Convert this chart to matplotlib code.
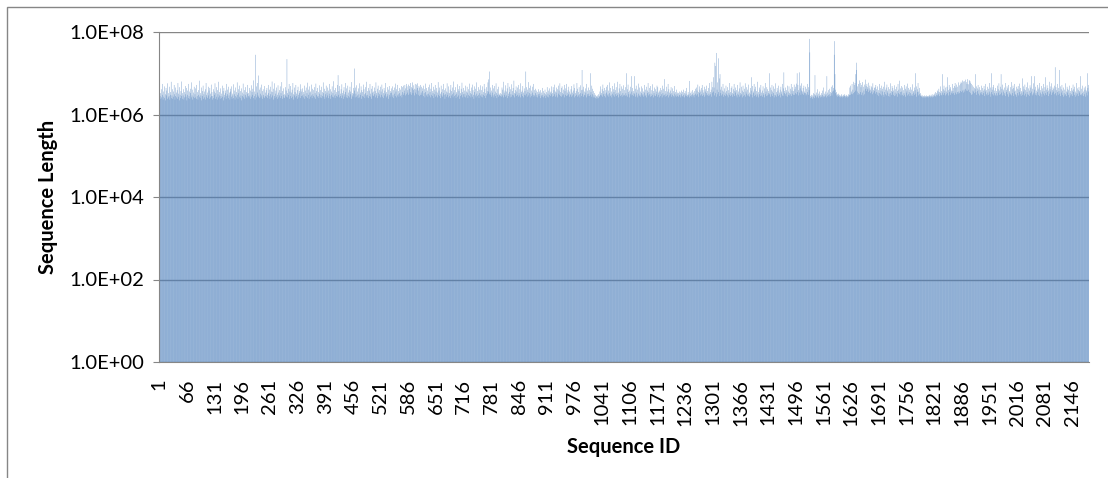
import numpy as np
import matplotlib.pyplot as plt
from matplotlib.patches import Rectangle
from matplotlib.ticker import FixedLocator, FuncFormatter, NullLocator

# sequence lengths in units of 100 kb, one value per sequence ID
lengths_100kb = [
    50, 45, 28, 33, 24, 41, 26, 30, 55, 23, 36, 27, 48, 25, 31, 22, 44, 29, 38, 24, 57, 26, 33, 28, 47, 23, 35, 30, 62, 25, 29, 41, 24, 36, 27, 52, 31, 23, 45, 28, 34, 26,
    39, 24, 58, 27, 32, 22, 46, 30, 25, 37, 28, 63, 24, 33, 29, 41, 23, 35, 26, 49, 31, 27, 44, 22, 38, 30, 55, 25, 28, 36, 24, 42, 33, 26, 60, 29, 23, 40, 27, 34, 47, 25,
    31, 26, 43, 24, 52, 28, 35, 23, 39, 30, 27, 66, 25, 33, 29, 45, 22, 37, 28, 50, 24, 31, 36, 26, 41, 23, 58, 30, 27, 34, 25, 47, 29, 38, 24, 44, 32, 26, 53, 28, 35, 23,
    28, 41, 25, 36, 30, 57, 24, 33, 27, 46, 23, 39, 31, 26, 62, 29, 35, 24, 43, 28, 32, 25, 50, 27, 37, 22, 44, 30, 26, 38, 33, 24, 55, 28, 31, 40, 25, 47, 29, 34, 23, 42,
    36, 27, 48, 24, 32, 29, 54, 25, 38, 31, 23, 45, 28, 35, 26, 60, 30, 24, 41, 33, 27, 50, 25, 37, 29, 43, 22, 34, 28, 56, 26, 31, 39, 24, 46, 30, 27, 35, 25, 52, 32, 28,
    33, 26, 44, 29, 38, 24, 51, 27, 35, 30, 42, 25, 67, 28, 36, 23, 280, 31, 48, 26, 58, 34, 29, 88, 27, 40, 25, 45, 32, 26, 53, 29, 37, 24, 41, 30, 27, 49, 25, 34, 28, 39,
    27, 44, 30, 25, 52, 33, 28, 40, 24, 47, 31, 36, 26, 63, 29, 35, 23, 42, 28, 57, 25, 32, 38, 27, 45, 30, 24, 51, 34, 26, 39, 29, 48, 25, 33, 28, 61, 24, 37, 30, 43, 26,
    31, 25, 46, 29, 38, 27, 220, 33, 26, 42, 30, 55, 24, 36, 28, 49, 25, 34, 40, 27, 58, 31, 23, 45, 29, 35, 26, 52, 32, 28, 39, 24, 47, 30, 26, 37, 33, 54, 25, 41, 28, 36,
    29, 43, 26, 35, 31, 50, 24, 38, 28, 45, 27, 33, 59, 25, 40, 30, 24, 48, 34, 27, 36, 29, 53, 25, 42, 31, 28, 39, 26, 46, 33, 24, 56, 30, 37, 27, 44, 28, 35, 25, 51, 32,
    26, 39, 30, 47, 25, 35, 28, 60, 33, 27, 42, 24, 37, 31, 50, 26, 34, 29, 45, 25, 38, 32, 55, 28, 41, 24, 36, 30, 48, 27, 33, 26, 64, 29, 39, 25, 44, 31, 35, 28, 52, 27,
    90, 30, 37, 26, 49, 32, 28, 41, 25, 54, 33, 29, 38, 24, 46, 31, 27, 58, 35, 26, 43, 30, 25, 50, 34, 28, 39, 26, 47, 31, 36, 24, 61, 29, 33, 27, 44, 32, 130, 38, 26, 45,
    32, 27, 51, 29, 36, 25, 43, 31, 57, 26, 34, 30, 48, 24, 39, 28, 35, 53, 27, 41, 31, 25, 46, 33, 29, 62, 26, 37, 30, 44, 25, 38, 28, 55, 32, 27, 42, 24, 49, 34, 29, 36,
    28, 45, 31, 37, 26, 60, 33, 29, 42, 25, 50, 34, 28, 39, 31, 47, 26, 36, 30, 53, 27, 41, 33, 25, 44, 29, 38, 32, 58, 26, 35, 28, 46, 31, 40, 24, 49, 30, 27, 37, 33, 43,
    34, 27, 48, 30, 39, 25, 45, 32, 28, 56, 36, 26, 41, 29, 52, 31, 37, 27, 44, 33, 28, 40, 30, 49, 26, 35, 46, 30, 50, 33, 38, 52, 29, 43, 55, 31, 48, 34, 39, 53, 30, 42,
    49, 32, 58, 35, 46, 30, 43, 60, 33, 39, 51, 29, 42, 55, 34, 40, 53, 31, 44, 57, 30, 38, 49, 28, 45, 52, 30, 34, 47, 30, 43, 37, 28, 50, 33, 41, 26, 56, 35, 29, 44, 31,
    38, 27, 46, 32, 29, 53, 35, 26, 42, 30, 58, 28, 37, 33, 47, 25, 40, 31, 52, 27, 36, 29, 44, 34, 26, 61, 30, 38, 28, 45, 32, 25, 50, 35, 29, 41, 27, 55, 33, 30, 39, 24,
    43, 31, 36, 27, 57, 30, 34, 26, 48, 33, 28, 40, 25, 52, 37, 29, 45, 31, 26, 63, 34, 28, 39, 30, 46, 25, 35, 32, 54, 27, 41, 29, 37, 24, 49, 33, 28, 42, 30, 59, 26, 35,
    31, 44, 27, 38, 32, 50, 26, 36, 29, 47, 34, 25, 41, 30, 56, 28, 37, 33, 26, 45, 31, 53, 27, 39, 30, 24, 48, 35, 29, 42, 26, 60, 32, 28, 37, 30, 46, 25, 40, 33, 51, 29,
    27, 39, 31, 48, 26, 35, 30, 55, 28, 42, 33, 25, 46, 29, 37, 32, 60, 36, 71, 31, 110, 34, 45, 30, 38, 27, 52, 34, 29, 43, 26, 49, 31, 36, 28, 57, 33, 25, 41, 30, 47, 27,
    32, 29, 30, 28, 33, 27, 31, 45, 29, 40, 26, 62, 34, 30, 38, 27, 51, 36, 29, 43, 25, 58, 32, 28, 47, 35, 26, 41, 31, 54, 27, 37, 30, 44, 29, 66, 33, 26, 39, 32, 48, 28,
    36, 30, 45, 27, 52, 33, 29, 41, 26, 57, 35, 31, 38, 28, 49, 34, 26, 43, 30, 37, 29, 110, 32, 46, 27, 40, 35, 61, 29, 33, 44, 26, 50, 31, 38, 28, 47, 34, 30, 55, 27, 39,
    29, 42, 33, 27, 38, 30, 35, 26, 41, 31, 28, 36, 32, 25, 39, 29, 34, 27, 44, 30, 26, 37, 33, 28, 40, 31, 25, 35, 29, 46, 27, 32, 38, 26, 43, 30, 34, 28, 36, 31, 48, 27,
    33, 46, 28, 39, 31, 53, 27, 36, 34, 45, 29, 41, 26, 50, 32, 38, 30, 57, 28, 35, 44, 27, 48, 33, 29, 40, 31, 52, 26, 37, 30, 43, 28, 55, 34, 29, 39, 31, 47, 27, 36, 32,
    30, 41, 27, 49, 34, 29, 38, 31, 54, 26, 44, 33, 28, 37, 30, 58, 27, 42, 35, 29, 46, 31, 26, 51, 33, 39, 28, 120, 32, 40, 27, 47, 30, 36, 29, 43, 34, 26, 55, 31, 38, 28,
    45, 32, 28, 39, 30, 100, 35, 27, 50, 31, 42, 26, 37, 29, 33, 26, 30, 25, 28, 27, 24, 29, 26, 31, 25, 28, 27, 36, 30, 48, 33, 29, 41, 27, 53, 31, 37, 28, 44, 32, 26, 39,
    34, 47, 29, 52, 31, 38, 27, 60, 33, 28, 44, 30, 36, 26, 49, 32, 29, 41, 35, 57, 27, 39, 31, 46, 28, 33, 30, 62, 34, 26, 43, 31, 55, 28, 37, 30, 48, 27, 42, 33, 29, 51,
    30, 39, 28, 46, 33, 100, 29, 41, 27, 53, 35, 31, 38, 26, 47, 32, 29, 85, 36, 30, 44, 28, 37, 33, 85, 31, 42, 27, 50, 34, 29, 40, 26, 56, 32, 28, 45, 30, 36, 27, 48, 33,
    29, 43, 31, 36, 27, 52, 34, 28, 40, 30, 47, 26, 38, 33, 58, 29, 35, 31, 44, 27, 49, 32, 28, 39, 30, 54, 26, 37, 33, 45, 29, 41, 28, 36, 31, 50, 27, 46, 34, 30, 38, 26,
    35, 28, 44, 31, 39, 26, 50, 33, 29, 42, 30, 72, 27, 37, 32, 47, 28, 36, 30, 55, 26, 41, 34, 29, 38, 31, 46, 27, 33, 30, 43, 28, 37, 26, 49, 32, 29, 35, 27, 40, 31, 34,
    28, 33, 27, 36, 30, 29, 34, 26, 38, 31, 28, 35, 27, 40, 30, 33, 26, 37, 29, 32, 28, 44, 30, 27, 35, 29, 31, 26, 65, 33, 28, 36, 30, 27, 39, 31, 29, 34, 26, 37, 30, 42,
    32, 45, 29, 38, 31, 53, 35, 27, 48, 33, 40, 29, 36, 44, 31, 52, 28, 39, 34, 30, 47, 27, 36, 41, 29, 33, 50, 30, 37, 28, 44, 32, 29, 58, 35, 31, 40, 27, 62, 34, 46, 80,
    36, 45, 29, 180, 33, 150, 27, 310, 40, 60, 31, 230, 35, 75, 28, 95, 40, 33, 47, 29, 38, 31, 55, 27, 36, 30, 43, 34, 28, 50, 31, 37, 29, 46, 26, 39, 33, 58, 30, 35, 28, 44,
    30, 48, 33, 27, 41, 31, 55, 28, 37, 34, 45, 29, 39, 26, 52, 32, 36, 30, 43, 27, 60, 33, 29, 47, 31, 38, 26, 50, 35, 28, 42, 30, 57, 27, 36, 32, 46, 29, 40, 31, 53, 28,
    34, 27, 44, 31, 38, 80, 30, 49, 26, 36, 33, 55, 28, 41, 30, 47, 27, 37, 32, 62, 29, 35, 26, 45, 31, 40, 28, 52, 34, 29, 38, 27, 48, 33, 30, 43, 26, 58, 31, 36, 28, 46,
    29, 41, 33, 37, 30, 100, 32, 45, 27, 39, 31, 52, 28, 36, 33, 48, 26, 42, 30, 57, 29, 35, 27, 44, 31, 38, 28, 50, 34, 30, 40, 26, 47, 32, 36, 29, 55, 28, 43, 105, 33, 37,
    31, 45, 28, 39, 34, 50, 27, 36, 30, 48, 33, 29, 42, 31, 55, 28, 38, 32, 46, 30, 37, 53, 30, 41, 47, 33, 56, 31, 100, 35, 52, 29, 39, 105, 34, 43, 50, 30, 38, 57, 32, 36,
    44, 30, 50, 33, 36, 47, 33, 29, 42, 31, 55, 35, 30, 46, 39, 680, 320, 28, 25, 27, 30, 26, 29, 24, 33, 27, 31, 25, 90, 28, 30, 26, 34, 29, 41, 27, 32, 25, 36, 28, 30, 26,
    29, 33, 27, 38, 30, 26, 45, 28, 32, 27, 36, 29, 31, 26, 85, 28, 34, 30, 39, 27, 42, 31, 35, 28, 47, 33, 29, 51, 36, 44, 38, 280, 600, 95, 40, 33, 29, 35, 31, 27, 30, 28,
    32, 27, 30, 28, 26, 29, 27, 31, 28, 26, 30, 27, 29, 28, 31, 26, 28, 30, 27, 29, 26, 28, 31, 27, 29, 30, 45, 30, 50, 32, 36, 55, 31, 40, 62, 33, 52, 35, 58, 38, 95, 180,
    120, 36, 48, 30, 55, 33, 67, 31, 58, 35, 46, 30, 52, 34, 61, 29, 47, 38, 53, 31, 70, 42, 49, 37, 55, 41, 46, 35, 59, 43, 38, 50, 40, 33, 48, 36, 45, 31, 57, 39, 34, 44,
    37, 46, 32, 52, 35, 41, 30, 48, 34, 39, 28, 55, 33, 44, 31, 38, 29, 50, 36, 42, 30, 47, 27, 62, 35, 40, 31, 45, 29, 53, 34, 38, 28, 46, 32, 41, 27, 57, 33, 37, 30, 49,
    35, 44, 30, 38, 28, 51, 34, 41, 29, 47, 32, 37, 27, 55, 33, 40, 31, 66, 35, 43, 29, 49, 36, 30, 45, 28, 39, 33, 52, 30, 42, 27, 48, 34, 38, 29, 56, 31, 44, 35, 40, 28,
    33, 46, 29, 40, 31, 54, 28, 37, 34, 45, 30, 39, 100, 32, 48, 27, 41, 35, 58, 29, 36, 31, 44, 28, 33, 30, 27, 28, 26, 29, 27, 28, 25, 29, 27, 26, 28, 27, 29, 26, 28, 27,
    28, 26, 29, 27, 30, 26, 28, 29, 27, 31, 26, 28, 30, 27, 29, 32, 28, 35, 27, 33, 30, 38, 29, 36, 31, 42, 28, 35, 33, 48, 30, 37, 29, 95, 34, 41, 30, 50, 33, 38, 29, 45,
    36, 31, 47, 80, 33, 39, 29, 52, 35, 42, 30, 46, 34, 38, 32, 55, 37, 44, 33, 49, 30, 58, 34, 45, 31, 53, 35, 47, 32, 60, 36, 51, 33, 56, 37, 62, 35, 58, 38, 67, 34, 63,
    40, 64, 36, 70, 42, 61, 38, 55, 72, 37, 54, 40, 68, 35, 65, 33, 59, 30, 55, 31, 51, 38, 47, 36, 44, 33, 41, 95, 35, 48, 30, 43, 37, 52, 32, 40, 29, 46, 34, 39, 31, 50,
    35, 44, 30, 38, 33, 49, 28, 41, 36, 55, 31, 39, 29, 47, 34, 42, 30, 36, 58, 32, 45, 27, 100, 35, 40, 31, 46, 29, 52, 33, 38, 30, 44, 28, 37, 33, 50, 29, 41, 34, 57, 30,
    38, 31, 47, 95, 34, 42, 29, 53, 36, 40, 30, 45, 33, 58, 28, 39, 35, 48, 31, 43, 27, 52, 34, 37, 30, 46, 32, 61, 29, 41, 33, 50, 28, 44, 36, 55, 31, 38, 30, 47, 27, 42,
    33, 49, 29, 40, 35, 56, 31, 44, 28, 37, 34, 75, 30, 48, 36, 41, 29, 53, 32, 39, 27, 46, 35, 60, 31, 43, 30, 38, 28, 51, 33, 45, 85, 36, 29, 42, 31, 57, 34, 40, 85, 30,
    47, 33, 38, 29, 52, 35, 41, 30, 45, 28, 58, 34, 39, 31, 49, 27, 43, 36, 55, 32, 37, 29, 46, 80, 33, 40, 30, 51, 35, 44, 28, 38, 62, 32, 41, 36, 48, 30, 57, 34, 39, 45,
    36, 42, 31, 50, 140, 33, 46, 29, 39, 35, 55, 30, 44, 37, 120, 32, 48, 28, 41, 34, 52, 30, 38, 27, 45, 33, 40, 29, 57, 31, 36, 28, 47, 34, 42, 30, 39, 26, 50, 33, 37, 29,
    44, 31, 38, 28, 53, 35, 41, 30, 47, 27, 36, 33, 58, 29, 43, 32, 39, 28, 46, 34, 37, 30, 85, 31, 42, 29, 50, 33, 36, 28, 45, 31, 40, 27, 48, 34, 38, 29, 100, 44, 36, 52,
]

lengths = np.array(lengths_100kb) * 1e5
seq_ids = np.arange(1, len(lengths) + 1)

y_ticks = [1e0, 1e2, 1e4, 1e6, 1e8]
x_tick_ids = list(range(1, len(lengths) + 1, 65))

plt.rcParams['font.family'] = ['Lato', 'DejaVu Sans']

fig = plt.figure(figsize=(11.08, 4.78), dpi=100)
ax = fig.add_axes([159 / 1108, 1 - 362 / 478, 930 / 1108, 330 / 478])

ax.bar(seq_ids, lengths, width=0.8, color='#4F81BD', linewidth=0, snap=False, zorder=2)

ax.set_yscale('log')
ax.set_ylim(1, 1e8)
ax.set_xlim(0.5, len(lengths) + 0.5)

ax.yaxis.set_major_locator(FixedLocator(y_ticks))
ax.yaxis.set_minor_locator(NullLocator())
ax.yaxis.set_major_formatter(FuncFormatter(lambda v, p: f'{v:.1E}'))
ax.set_xticks(x_tick_ids)
ax.set_xticklabels([str(i) for i in x_tick_ids], rotation=90)

ax.grid(axis='y', color='#868686', linewidth=1, zorder=1)
ax.set_axisbelow(True)
for side in ['top', 'right']:
    ax.spines[side].set_visible(False)
for side in ['left', 'bottom']:
    ax.spines[side].set_color('#868686')
ax.tick_params(axis='y', length=4.5, color='#868686', pad=6, labelsize=14.5)
ax.tick_params(axis='x', length=0, pad=12, labelsize=14.5)

ax.set_xlabel('Sequence ID', fontsize=14.5, fontweight='bold', labelpad=8)
ax.set_ylabel('Sequence Length', fontsize=14.5, fontweight='bold', labelpad=8)

# outer chart border, cropped by the image edges on the right and bottom
fig.patches.append(Rectangle((7 / 1108, -0.1), 1.2, 1.1 - 7 / 478, transform=fig.transFigure,
                             fill=False, edgecolor='#868686', linewidth=1))

fig.savefig('out.png', dpi=100)
